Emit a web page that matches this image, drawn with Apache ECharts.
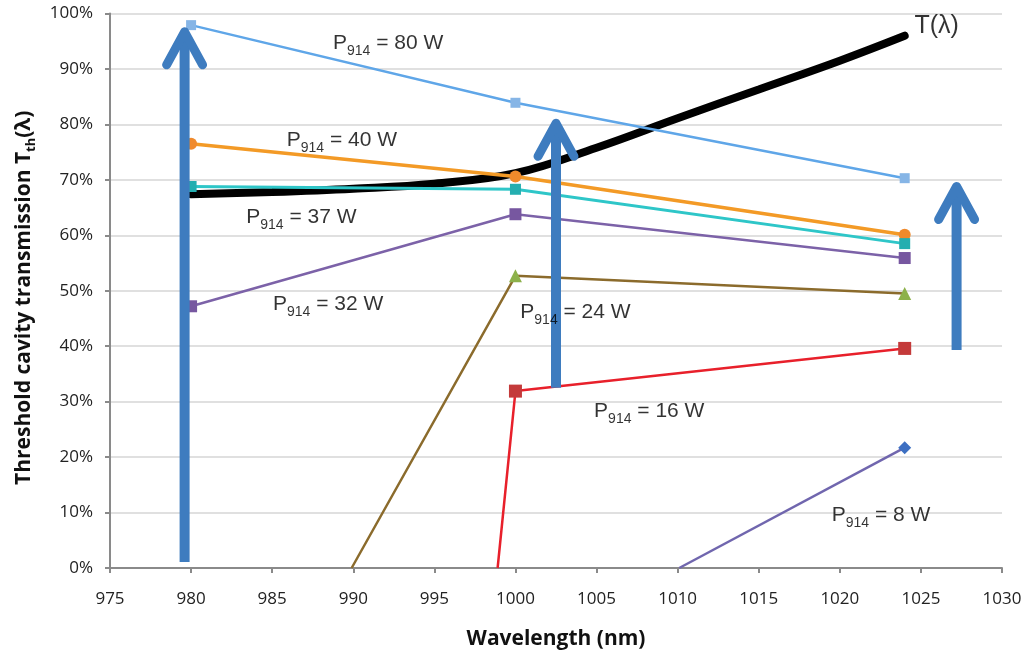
<!DOCTYPE html>
<html>
<head>
<meta charset="utf-8">
<script src="https://cdn.jsdelivr.net/npm/echarts@6/dist/echarts.min.js"></script>
<style>
html,body{margin:0;padding:0;background:#fff;}
#chart{width:1028px;height:656px;}
</style>
</head>
<body>
<div id="chart"></div>
<script>
// ---- data ----
const xTicks = { min: 975, max: 1030, step: 5 };
const yTicks = { min: 0, max: 100, step: 10 };

const wl3 = [980, 1000, 1024];
const p80 = [97.9, 83.9, 70.3];
const p40 = [76.5, 70.6, 60.1];
const p37 = [68.8, 68.3, 58.5];
const p32 = [47.2, 63.8, 55.9];
const p24x = [989.9, 1000, 1024];
const p24 = [0, 52.7, 49.5];
const p16x = [998.9, 1000, 1024];
const p16 = [0, 31.9, 39.6];
const p8x = [1010.1, 1024];
const p8 = [0, 21.7];

const tLambdaX = [980, 985, 990, 995, 1000, 1005, 1010, 1015, 1020, 1024];
const tLambda = [67.4, 67.8, 68.4, 69.3, 71.2, 75.8, 81.1, 86.3, 91.5, 96.0];

// arrows: wavelength, from %, to %
const arrowX = [979.6, 1002.5, 1027.2];
const arrowFrom = [1.1, 32.5, 39.3];
const arrowTo = [97.6, 81.1, 69.7];

// annotation texts and their anchors (left edge, vertical centre)
const powerLabels = ['80 W', '40 W', '37 W', '32 W', '24 W', '16 W', '8 W'];
const powerLabelX = [988.75, 985.9, 983.4, 985.05, 1000.3, 1004.85, 1019.5];
const powerLabelY = [94.7, 77.2, 63.3, 47.5, 46.1, 28.3, 9.6];
const curveLabel = 'T(λ)';
const curveLabelPos = [1024.6, 97.7];

// ---- helpers ----
const zip = (xs, ys) => xs.map((x, i) => [x, ys[i]]);
const hideZero = (sym) => (v) => (v[1] <= 0 ? 'none' : sym);

function powerSeries(name, xs, ys, color, markColor, sym, size, width) {
  return {
    name, type: 'line', data: zip(xs, ys),
    symbol: hideZero(sym), symbolSize: size, showAllSymbol: true,
    lineStyle: { color, width },
    itemStyle: { color: markColor, borderWidth: 0 },
    z: 3, animation: false
  };
}

const chart = echarts.init(document.getElementById('chart'), null, { renderer: 'canvas' });

const option = {
  animation: false,
  backgroundColor: '#ffffff',
  grid: { left: 110, right: 26, top: 13.5, bottom: 88, containLabel: false },
  xAxis: {
    type: 'value', min: xTicks.min, max: xTicks.max, interval: xTicks.step,
    name: 'Wavelength (nm)', nameLocation: 'middle', nameGap: 61,
    nameTextStyle: { fontFamily: 'Open Sans', fontWeight: 'bold', fontSize: 21, color: '#111' },
    axisLine: { show: true, lineStyle: { color: '#8a8a8a', width: 2 } },
    axisTick: { show: true, length: 5, lineStyle: { color: '#8a8a8a', width: 2 } },
    axisLabel: { fontFamily: 'Open Sans', fontSize: 17, color: '#222', margin: 23, formatter: (v) => String(v) },
    splitLine: { show: false }
  },
  yAxis: {
    type: 'value', min: yTicks.min, max: yTicks.max, interval: yTicks.step,
    name: '{a|Threshold cavity transmission T}{s|th}{a|(λ)}', nameLocation: 'middle', nameGap: 72,
    nameTextStyle: {
      padding: [0, 14, 0, 0],
      rich: {
        a: { fontFamily: 'Open Sans', fontWeight: 'bold', fontSize: 21, color: '#111', lineHeight: 28, verticalAlign: 'middle' },
        s: { fontFamily: 'Open Sans', fontWeight: 'bold', fontSize: 13, color: '#111', lineHeight: 14, verticalAlign: 'bottom' }
      }
    },
    axisLine: { show: true, lineStyle: { color: '#8a8a8a', width: 2 } },
    axisTick: { show: true, length: 5, lineStyle: { color: '#8a8a8a', width: 2 } },
    axisLabel: { fontFamily: 'Open Sans', fontSize: 17, color: '#222', margin: 17, formatter: '{value}%' },
    splitLine: { show: true, lineStyle: { color: '#d6d6d6', width: 1.5 } }
  },
  series: [
    {
      name: 'T(λ)', type: 'line', data: zip(tLambdaX, tLambda), smooth: 0.4,
      symbol: 'none', lineStyle: { color: '#000000', width: 8, cap: 'round' }, z: 2
    },
    powerSeries('80 W', wl3, p80, '#5fa6e8', '#86b5e6', 'rect', 10, 2.5),
    powerSeries('40 W', wl3, p40, '#f39a26', '#f08a2c', 'circle', 12, 3.5),
    powerSeries('37 W', wl3, p37, '#2ec6c8', '#24aeb0', 'rect', 11, 3),
    powerSeries('32 W', wl3, p32, '#7c62a8', '#7757a0', 'rect', 12, 2.5),
    powerSeries('24 W', p24x, p24, '#8b6b2c', '#8db14b', 'triangle', 13, 2.5),
    powerSeries('16 W', p16x, p16, '#e8202b', '#c43a3a', 'rect', 13, 2.5),
    powerSeries('8 W', p8x, p8, '#7066ae', '#3d6fc2', 'diamond', 13, 2.5),
    {
      name: 'arrows', type: 'custom', z: 5, silent: true,
      data: arrowX.map((x, i) => [x, arrowFrom[i], arrowTo[i]]),
      renderItem(params, api) {
        const x = api.value(0);
        const b = api.coord([x, api.value(1)]);
        const t = api.coord([x, api.value(2)]);
        const col = '#3e7cbf';
        const ax = t[0], ay = t[1] + 5;
        return {
          type: 'group',
          children: [
            { type: 'line', shape: { x1: b[0], y1: b[1], x2: ax, y2: ay + 2 },
              style: { stroke: col, lineWidth: 10, lineCap: 'butt' } },
            { type: 'polyline', shape: { points: [[ax - 18, ay + 33], [ax, ay], [ax + 18, ay + 33]] },
              style: { stroke: col, lineWidth: 9, fill: null, lineJoin: 'round', lineCap: 'round' } }
          ]
        };
      }
    },
    {
      name: 'labels', type: 'scatter', z: 6, silent: true, symbolSize: 0,
      data: powerLabelX.map((x, i) => [x, powerLabelY[i]]),
      label: {
        show: true, position: 'right', distance: 0,
        formatter: (p) => '{a|P}{s|914}{a| = ' + powerLabels[p.dataIndex] + '}',
        rich: {
          a: { fontFamily: 'Liberation Sans', fontSize: 21, color: '#000', lineHeight: 30, verticalAlign: 'middle' },
          s: { fontFamily: 'Liberation Sans', fontSize: 14, color: '#000', lineHeight: 15, verticalAlign: 'bottom' }
        }
      }
    },
    {
      name: 'curveLabel', type: 'scatter', z: 6, silent: true, symbolSize: 0,
      data: [curveLabelPos],
      label: {
        show: true, position: 'right', distance: 0, formatter: curveLabel,
        fontFamily: 'Liberation Sans', fontSize: 25, color: '#000'
      }
    }
  ]
};
chart.setOption(option);
</script>
</body>
</html>
